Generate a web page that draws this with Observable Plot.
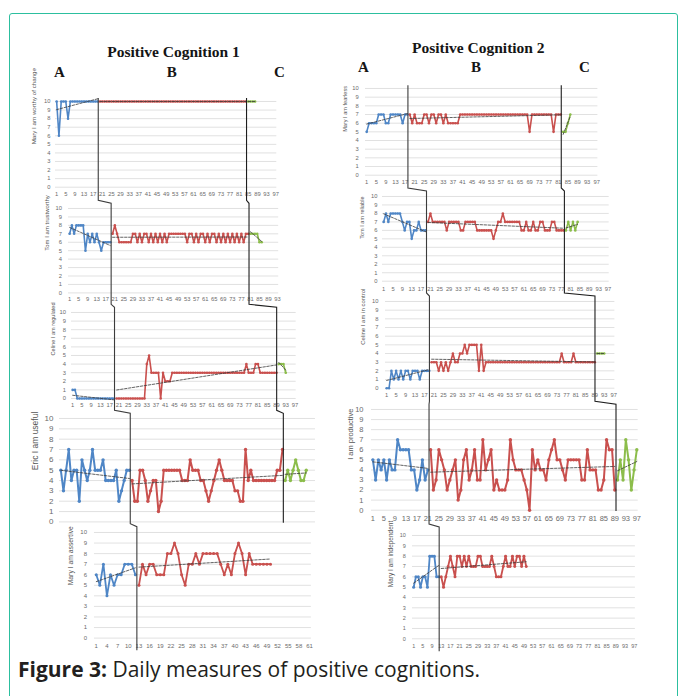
<!DOCTYPE html>
<html><head><meta charset="utf-8">
<script src="https://cdn.jsdelivr.net/npm/d3@7"></script>
<script src="https://cdn.jsdelivr.net/npm/@observablehq/plot@0.6"></script>
<style>
body{margin:0;background:#fff;}
#fig{position:relative;width:686px;height:696px;overflow:hidden;background:#fff;}
#border{position:absolute;left:9px;top:13px;width:669px;height:720px;border:1.6px solid #2cbf9f;border-radius:3px;box-sizing:border-box;}
.panel{position:absolute;}
#overlay{position:absolute;left:0;top:0;pointer-events:none;}
</style></head>
<body><div id="fig"><div id="border"></div></div>
<script>
// ---------- tick labels ----------
const yTicks = [0,1,2,3,4,5,6,7,8,9,10];
const xTicksBy4 = [1,5,9,13,17,21,25,29,33,37,41,45,49,53,57,61,65,69,73,77,81,85,89,93,97];
const xTicksBy4To93 = [1,5,9,13,17,21,25,29,33,37,41,45,49,53,57,61,65,69,73,77,81,85,89,93];
const xTicksBy3 = [1,4,7,10,13,16,19,22,25,28,31,34,37,40,43,46,49,52,55,58,61];
const phases = ["A","B","C"];

// ---------- Positive Cognition 1 ----------
const maryWorthyA = [10,6,10,10,10,8,10,10,10,10,10,10,10,10,10,10,10,10,10];
const maryWorthyB = [10,10,10,10,10,10,10,10,10,10,10,10,10,10,10,10,10,10,10,10,10,10,10,10,10,10,10,10,10,10,10,10,10,10,10,10,10,10,10,10,10,10,10,10,10,10,10,10,10,10,10,10,10,10,10,10,10,10,10,10,10,10,10,10,10];
const maryWorthyC = [10,10,10,10];

const tomTrustA = [7,8,7,8,8,8,8,5,7,6,7,6,7,6,5,6,6,6,6];
const tomTrustB = [7,8,7,6,6,6,6,6,6,7, 7,6,7,6,7,7,6,7,6,7, 6,7,6,7,6,7,7,7,7,7, 7,7,7,6,7,7,6,7,6,7, 7,6,7,6,7,7,6,7,6,7, 6,7,6,7,6,7,6,7,6,7, 7];
const tomTrustC = [7,7,7,7,6,6];

const celineRegA = [1,1,0,0,0,0,0,0,0,0,0,0,0,0,0,0,0,0,0];
const celineRegB = [0,0,0,0,0,0,0,0,0,0,0,0,0, 4,5,3,3,3,3,0,3,2,2,2,3, 3,3,3,3,3,3,3,3,3,3,3,3,3,3,3,3,3,3,3,3,3,3,3,3,3,3,3,3,3,3,3, 4,3,3,3,4,4,3, 3,3,3,3,3,3,3];
const celineRegC = [4,4,4,3];

const ericUsefulA = [5,3,5,7,4,5,5,2,6,5,4,5,7,5,5,5,6,4,4,4,4,5,2,3,4,5,5];
const ericUsefulB = [4,2,2,5,5,4,2,3,4,4,1,2,5,5,5,5,5,5,5,4,4,4,6,5,5,5,4,4,3,2,3,4,5,6,5,4,4,4,4,3,3,2,2,7,4,5,4,4,4,4,4,4,4,4,4,5,5,7];
const ericUsefulC = [4,5,4,5,6,5,4,4,5];

const maryAssertA = [6,5,7,4,6,5,6,6,7,7,7,6];
const maryAssertB = [5,7,6,7,7,6,6,6,8,8,9,8,6,5,7,7,8,7,8,8,8,8,8,7,6,7,6,8,9,8,6,8,7,7,7,7,7,7];

// ---------- Positive Cognition 2 ----------
const maryFearlessA = [5,6,6,6,6,7,7,7,6,6,7,7,7,7,7,6,7,7];
const maryFearlessB = [7,6,7,6,6,6,7,7,6,7,7,6,7,7,6,7,6,6,6,6,6, 7,7,7,7,7,7,7,7,7,7,7,7,7,7,7,7,7,7,7,7,7,7,7,7,7,7,7,7,7, 5, 7,7,7,7,7,7,7,7,7, 5, 7,7,7];
const maryFearlessC = [5,5,6,7];

const tomReliableA = [7,8,7,8,8,8,8,8,7,6,7,7,5,6,6,7,6,6,6];
const tomReliableB = [7,8,7,7,7,7,7,7,6,7, 7,7,7,7,6,6,7,7,7,7, 7,6,6,6,6,6,6,6,5,6, 7,7,8,7,7,7,7,7,7,7, 6,6,7,6,6,7,6,6,7,7, 6,6,6,7,7,6,6,6,6];
const tomReliableC = [6,7,6,7,6,7];

const celineControlA = [0,0,2,1,2,1,2,1,2,2,1,2,2,2,1,2,2,2,2];
const celineControlB = [3,3,3,2,3,2,3,2,3,4,3,3,4,4,5,4,5,5,5,5,2,5,2,3, 3,3,3,3,3,3,3,3,3,3,3,3,3,3,3,3,3,3,3,3,3,3,3,3,3,3,3,3,3,3,3, 4,3,3,3,3,4, 3,3,3,3,3,3,3,3,3];
const celineControlC = [4,4,4,4];

const productiveA = [5,3,5,4,5,3,5,4,4,7,6,6,6,6,4,4,2,3,5,3,4];
const productiveB = [6,2,3,6,5,4,2,3,4,5, 1,2,5,6,3,4,6,3,3,7, 4,5,6,2,3,2,2,2,3,7, 5,4,4,4,3,2,0,6,4,5, 4,4,3,5,6,7,5,5,4,3, 5,5,5,5,5,3,3,6,4,4, 4,2,2,3,7,6,6,2];
const productiveC = [3,5,3,7,5,2,4,6];

const maryIndependentA = [5,6,6,5,6,6,5,8,8,8,6,6];
const maryIndependentB = [6,5,6,7,8,7,6,8,8,7, 8,7,8,7,7,7,8,8,7,7, 7,7,8,7,6,6,6,7,8,7, 7,8,7,8,8,7,8,7];

// ---------- styling / layout ----------
const phaseColors = ["#4f86c6", "#c9504e", "#8cbd4b"];
const tickColor = "#6b6b6b";
const panels = [
  {col:0, label:"Mary I am worthy of change", A:maryWorthyA, B:maryWorthyB, C:maryWorthyC, ticks:xTicksBy4, n:97,
   left:54.9, right:276.2, top:101, bottom:186.7, fs:5.8, labFs:6.2, labX:33.3, yPad:5, xPad:4.5, lw:1.6, r:1.3},
  {col:0, label:"Tom I am trustworthy", A:tomTrustA, B:tomTrustB, C:tomTrustC, ticks:xTicksBy4To93, n:93,
   left:68.2, right:278.4, top:208.3, bottom:292.7, fs:5.8, labFs:6, labX:46.7, yPad:6.5, xPad:4, lw:1.6, r:1.3},
  {col:0, label:"Celine I am regulated", A:celineRegA, B:celineRegB, C:celineRegC, ticks:xTicksBy4, n:97,
   left:70.5, right:295.2, top:312.3, bottom:398.3, fs:5.8, labFs:5.6, labX:51.7, yPad:5.5, xPad:4.5, lw:1.6, r:1.3},
  {col:0, label:"Eric I am useful", A:ericUsefulA, B:ericUsefulB, C:ericUsefulC, ticks:null, n:97,
   left:59, right:315, top:418.3, bottom:521.7, fs:8, labFs:8.5, labX:35, yPad:6, xPad:5, lw:2, r:1.7},
  {col:0, label:"Mary I am assertive", A:maryAssertA, B:maryAssertB, C:[], ticks:xTicksBy3, n:61,
   left:94.2, right:311.1, top:531.7, bottom:637.3, fs:6, labFs:6.8, labX:70.7, yPad:7.5, xPad:6, lw:1.8, r:1.5},
  {col:1, label:"Mary I am fearless", A:maryFearlessA, B:maryFearlessB, C:maryFearlessC, ticks:xTicksBy4, n:97,
   left:364.8, right:597.2, top:88.3, bottom:175, fs:5.8, labFs:5.6, labX:344, yPad:6.8, xPad:4.5, lw:1.6, r:1.3},
  {col:1, label:"Tom I am reliable", A:tomReliableA, B:tomReliableB, C:tomReliableC, ticks:xTicksBy4, n:97,
   left:382.1, right:608.8, top:196, bottom:280.7, fs:5.8, labFs:5.6, labX:361.7, yPad:5, xPad:5.5, lw:1.6, r:1.3},
  {col:1, label:"Celine I am in control", A:celineControlA, B:celineControlB, C:celineControlC, ticks:xTicksBy4, n:97,
   left:384.5, right:613.9, top:301, bottom:387.7, fs:5.8, labFs:6, labX:361.7, yPad:7, xPad:5, lw:1.6, r:1.3},
  {col:1, label:"I am productive", A:productiveA, B:productiveB, C:productiveC, ticks:xTicksBy4, n:97,
   left:371.3, right:638, top:409.3, bottom:510, fs:7.5, labFs:7.5, labX:350, yPad:8, xPad:5, lw:2, r:1.7},
  {col:1, label:"Mary I am independent", A:maryIndependentA, B:maryIndependentB, C:[], ticks:xTicksBy4, n:97,
   left:411.6, right:634.5, top:535, bottom:638.3, fs:5.5, labFs:6.5, labX:390, yPad:6.6, xPad:5.5, lw:1.8, r:1.5}
];

function rowsOf(P) {
  const rows = []; let d = 1;
  [P.A, P.B, P.C].forEach((arr, i) => { for (const v of arr) rows.push({day: d++, value: v, phase: phases[i]}); });
  return rows;
}

const fig = document.getElementById("fig");
const mL = 50, mR = 6, mT = 6, mB = 20;

panels.forEach(P => {
  const rows = rowsOf(P);
  const marks = [
    Plot.ruleY(yTicks, {stroke: "#d9d9d9", strokeWidth: 0.8}),
    Plot.axisY(yTicks, {anchor: "left", tickSize: 0, tickPadding: P.yPad, fontSize: P.fs, fill: tickColor, label: null}),
    Plot.text([P.label], {text: d => d, frameAnchor: "left", rotate: -90, dx: P.labX - P.left, fontSize: P.labFs, fill: "#555"}),
    Plot.line(rows, {x: "day", y: "value", z: "phase", stroke: "phase", strokeWidth: P.lw, strokeLinejoin: "miter"}),
    Plot.dot(rows, {x: "day", y: "value", fill: "phase", r: P.r}),
    Plot.linearRegressionY(rows, {x: "day", y: "value", z: "phase", ci: 0, stroke: "#3a3a3a", strokeWidth: 0.8, strokeDasharray: "2.5,1.5"})
  ];
  if (P.ticks) marks.push(Plot.axisX(P.ticks, {anchor: "bottom", tickSize: 0, tickPadding: P.xPad, fontSize: P.fs, fill: tickColor, label: null}));
  const plot = Plot.plot({
    width: P.right - P.left + mL + mR,
    height: P.bottom - P.top + mT + mB,
    marginLeft: mL, marginRight: mR, marginTop: mT, marginBottom: mB,
    x: {type: "linear", domain: [0.5, P.n + 0.5], axis: null},
    y: {type: "linear", domain: [0, 10], axis: null},
    color: {type: "ordinal", domain: phases, range: phaseColors},
    style: {background: "transparent", fontFamily: "'Liberation Sans', Arial, sans-serif", overflow: "visible"},
    marks
  });
  plot.classList.add("panel");
  P.svgLeft = P.left - mL; P.svgTop = P.top - mT;
  plot.style.left = P.svgLeft + "px";
  plot.style.top = P.svgTop + "px";
  fig.appendChild(plot);
  const xs = plot.scale("x");
  P.xAt = d => P.svgLeft + xs.apply(d);
});

// ---------- overlay: phase-change lines, titles, caption ----------
const svg = d3.select(fig).append("svg").attr("id", "overlay").attr("width", 686).attr("height", 696);
const line = d3.line();
[0, 1].forEach(col => {
  const colPanels = panels.filter(p => p.col === col);
  [1, 2].forEach(k => {
    const seq = colPanels.filter(p => k === 1 || p.C.length > 0);
    const pts = [];
    let yStart = null;
    seq.forEach((P, i) => {
      const b = (k === 1 ? P.A.length : P.A.length + P.B.length) + 0.5;
      const x = P.xAt(b);
      pts.push([x, i === 0 ? P.top - 3 : yStart]);
      const next = seq[i + 1];
      if (next) {
        const yc = Math.min(P.bottom + 14, next.top - 8);
        pts.push([x, yc]);
        yStart = yc + 3;
      } else {
        pts.push([x, k === 1 ? P.bottom + 13 : P.bottom + 1]);
      }
    });
    svg.append("path").attr("d", line(pts)).attr("fill", "none")
      .attr("stroke", k === 1 ? "#3c3c3c" : "#1e1e1e").attr("stroke-width", 1.1);
  });
});

const titleFont = "'Liberation Serif', 'Times New Roman', serif";
const headers = [
  {text: "Positive Cognition 1", x: 173.5, y: 56.5, size: 15.5},
  {text: "A", x: 59.3, y: 76.5, size: 15}, {text: "B", x: 171.7, y: 76.5, size: 15}, {text: "C", x: 279.3, y: 76.5, size: 15},
  {text: "Positive Cognition 2", x: 478.3, y: 52.5, size: 15.5},
  {text: "A", x: 363.3, y: 71.5, size: 15}, {text: "B", x: 476, y: 71.5, size: 15}, {text: "C", x: 584.3, y: 71.5, size: 15}
];
svg.selectAll("text.hdr").data(headers).join("text").attr("class", "hdr")
  .attr("x", d => d.x).attr("y", d => d.y).attr("text-anchor", "middle")
  .attr("font-family", titleFont).attr("font-weight", "bold").attr("font-size", d => d.size)
  .attr("fill", "#151515").text(d => d.text);

const cap = svg.append("text").attr("x", 18).attr("y", 677)
  .attr("font-family", "'Open Sans', 'Noto Sans', sans-serif").attr("font-size", 21).attr("fill", "#231f20");
cap.append("tspan").attr("font-weight", "bold").text("Figure 3:");
cap.append("tspan").text(" Daily measures of positive cognitions.");
</script>
</body></html>
